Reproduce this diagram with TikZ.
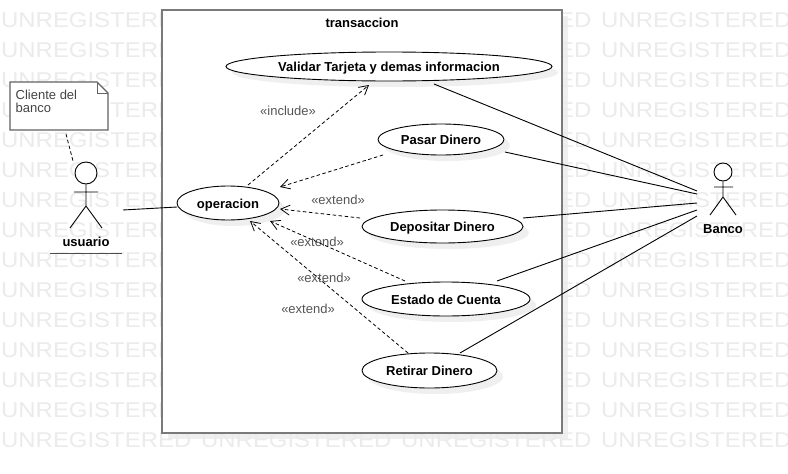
\documentclass[tikz,border=0pt]{standalone}
\usepackage{fontspec}
\setmainfont{Liberation Sans}
\newfontfamily\wmfont[FakeStretch=1.118]{Liberation Sans}
\usetikzlibrary{arrows.meta,shapes.geometric,shadows}
\definecolor{wm}{HTML}{EBEBEB}
\definecolor{shadowc}{HTML}{EFEFEF}
\definecolor{framec}{HTML}{7A7A7A}
\definecolor{lbl}{HTML}{555555}
\tikzset{
  x=1pt,y=-1pt,
  watermark/.style={anchor=west,inner sep=0pt,text=wm,font=\wmfont\fontsize{21.4}{24}\selectfont},
  usecase/.style={draw=black,fill=white,ellipse,line width=.9pt,inner sep=0pt,
    text height=10pt,text depth=0pt,
    font=\fontsize{13}{15}\bfseries\selectfont,
    copy shadow={shadow xshift=6pt,shadow yshift=-6pt,draw=none,fill=shadowc}},
  assoc/.style={draw=black,line width=.9pt},
  dep/.style={draw=black,line width=.8pt,dash pattern=on 3.5pt off 2.5pt,
    -{Straight Barb[length=9pt,width=10pt,line width=.8pt]}},
  stereo/.style={text=lbl,inner sep=0pt,font=\fontsize{13}{15}\selectfont},
  actorname/.style={inner sep=0pt,font=\fontsize{13}{15}\bfseries\selectfont},
  limb/.style={draw=black,line width=.9pt},
}
\begin{document}
\begin{tikzpicture}
\useasboundingbox (0,0) rectangle (788,474);
\fill[white] (0,0) rectangle (788,474);
% frame shadow
\fill[shadowc] (168,16) rectangle (568,439);
% watermark
\begin{scope}
\clip (0,0) rectangle (788,474);
\foreach \r in {20,50,...,440}
  \foreach \c in {1,201,401,601}
    \node[watermark] (wm-\r-\c) at (\c,\r) {UNREGISTERED};
\end{scope}
% system frame
\node[draw=framec,fill=white,line width=2pt,inner sep=0pt,minimum width=400pt,minimum height=423pt] (system) at (362,221.5) {};
\node[inner sep=0pt,font=\fontsize{13}{15}\bfseries\selectfont] (systitle) at (362,23) {transaccion};
% use cases
\node[usecase,minimum width=326pt,minimum height=29pt] (validar) at (389,66.5) {Validar Tarjeta y demas informacion};
\node[usecase,minimum width=126pt,minimum height=31pt] (pasar) at (441,139.5) {Pasar Dinero};
\node[usecase,minimum width=161pt,minimum height=33pt] (depositar) at (442.5,226.5) {Depositar Dinero};
\node[usecase,minimum width=168pt,minimum height=34pt] (estado) at (446,299) {Estado de Cuenta};
\node[usecase,minimum width=135pt,minimum height=35pt] (retirar) at (429.5,370.5) {Retirar Dinero};
\node[usecase,minimum width=102pt,minimum height=34pt] (operacion) at (228,203) {operacion};
% note
\coordinate (nA) at (10,82);
\coordinate (nB) at (97,82);
\coordinate (nC) at (108,93);
\coordinate (nD) at (108,130);
\coordinate (nE) at (10,130);
\coordinate (nF) at (97,93);
\draw[draw=framec!80!black,fill=white,line width=1.2pt,line join=miter] (nA) -- (nB) -- (nC) -- (nD) -- (nE) -- cycle;
\draw[draw=framec!80!black,line width=1pt] (nB) -- (nF) -- (nC);
\node[anchor=north west,inner sep=0pt,align=left,text=lbl!80!black,font=\fontsize{13}{13}\selectfont] (note) at (15.5,90) {Cliente del\\banco};
% actor usuario
\node[draw=black,fill=white,circle,line width=.9pt,inner sep=0pt,minimum size=22pt] (uhead) at (86,173) {};
\coordinate (ubody) at (86,206);
\coordinate (uarmL) at (74,192);
\coordinate (uarmR) at (98,192);
\coordinate (ulegL) at (70,228);
\coordinate (ulegR) at (102,228);
\draw[limb] (uhead) -- (ubody) (uarmL) -- (uarmR) (ulegL) -- (ubody) -- (ulegR);
\node[actorname] (usuario) at (86,242) {usuario};
\coordinate (ulineA) at (50,253.5);
\coordinate (ulineB) at (122,253.5);
\draw[draw=black!70,line width=1pt] (ulineA) -- (ulineB);
% actor banco
\node[draw=black,fill=white,circle,line width=.9pt,inner sep=0pt,minimum size=18pt] (bhead) at (723,172) {};
\coordinate (bbody) at (723,197);
\coordinate (barmL) at (714,187);
\coordinate (barmR) at (733,187);
\coordinate (blegL) at (710,215);
\coordinate (blegR) at (736,215);
\draw[limb] (bhead) -- (bbody) (barmL) -- (barmR) (blegL) -- (bbody) -- (blegR);
\node[actorname] (banco) at (723,229) {Banco};
% note link
\coordinate (lnA) at (66,134);
\coordinate (lnB) at (73,161);
\draw[draw=black,line width=.8pt,dash pattern=on 3.5pt off 2.5pt] (lnA) -- (lnB);
% associations
\coordinate (uA) at (123,210);
\coordinate (oL) at (177,207);
\draw[assoc] (uA) -- (oL);
\coordinate (b1) at (697,191);
\coordinate (b2) at (697,194);
\coordinate (b3) at (697,203);
\coordinate (b4) at (697,210);
\coordinate (b5) at (697,216);
\coordinate (v1) at (434,84);
\coordinate (p1) at (505,152);
\coordinate (d1) at (523,218);
\coordinate (e1) at (497,281);
\coordinate (r1) at (460,353);
\draw[assoc] (v1) -- (b1);
\draw[assoc] (p1) -- (b2);
\draw[assoc] (d1) -- (b3);
\draw[assoc] (e1) -- (b4);
\draw[assoc] (r1) -- (b5);
% dependencies
\coordinate (oT) at (248,185);
\coordinate (vT) at (369,85);
\coordinate (pS) at (383,155);
\coordinate (pE) at (280,187);
\coordinate (dS) at (360,218);
\coordinate (dE) at (280,209);
\coordinate (eS) at (405,281);
\coordinate (eE) at (270,221);
\coordinate (rS) at (408,353);
\coordinate (rE) at (250,221);
\draw[dep] (oT) -- (vT);
\draw[dep] (pS) -- (pE);
\draw[dep] (dS) -- (dE);
\draw[dep] (eS) -- (eE);
\draw[dep] (rS) -- (rE);
% labels
\node[stereo] (l1) at (288,111) {«include»};
\node[stereo] (l2) at (338,200) {«extend»};
\node[stereo] (l3) at (317,242) {«extend»};
\node[stereo] (l4) at (324,278) {«extend»};
\node[stereo] (l5) at (308,309) {«extend»};
\end{tikzpicture}
\end{document}
